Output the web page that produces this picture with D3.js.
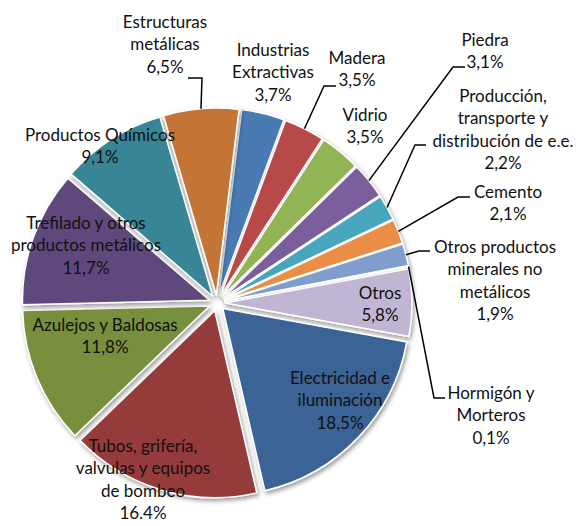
<!DOCTYPE html>
<html>
<head>
<meta charset="utf-8">
<script src="https://cdn.jsdelivr.net/npm/d3@7"></script>
<style>
  body { margin: 0; background: #fff; }
  svg text { font-family: Lato, "Open Sans", sans-serif; font-size: 17px; fill: #111; }
</style>
</head>
<body>
<div id="container"></div>
<script>
/* DATA */
const categories = [
  "Industrias Extractivas", "Madera", "Vidrio", "Piedra",
  "Producción, transporte y distribución de e.e.", "Cemento",
  "Otros productos minerales no metálicos", "Hormigón y Morteros", "Otros",
  "Electricidad e iluminación", "Tubos, grifería, valvulas y equipos de bombeo",
  "Azulejos y Baldosas", "Trefilado y otros productos metálicos",
  "Productos Químicos", "Estructuras metálicas"
];
const values = [3.7, 3.5, 3.5, 3.1, 2.2, 2.1, 1.9, 0.1, 5.8, 18.5, 16.4, 11.8, 11.7, 9.1, 6.5];
const pctLabels = ["3,7%", "3,5%", "3,5%", "3,1%", "2,2%", "2,1%", "1,9%", "0,1%", "5,8%", "18,5%", "16.4%", "11,8%", "11,7%", "9,1%", "6,5%"];
// label text broken in lines as in the original
const labelLines = [
  ["Industrias", "Extractivas"], ["Madera"], ["Vidrio"], ["Piedra"],
  ["Producción,", "transporte y", "distribución de e.e."], ["Cemento"],
  ["Otros productos", "minerales no", "metálicos"], ["Hormigón y", "Morteros"], ["Otros"],
  ["Electricidad e", "iluminación"], ["Tubos, grifería,", "valvulas y equipos", "de bombeo"],
  ["Azulejos y Baldosas"], ["Trefilado y otros", "productos metálicos"],
  ["Productos Químicos"], ["Estructuras", "metálicas"]
];
const colors = [
  "#4a7ab4", "#b84a48", "#93b455", "#7a5e9c", "#46a5be", "#eb8e44",
  "#7f9ecb", "#d9e4c0", "#c0b5d2", "#3a6396", "#963b3a", "#788f3e",
  "#5f4a7b", "#398596", "#c47535"
];

/* LAYOUT */
const width = 576, height = 526;
const cx = 217, cy = 303, radius = 187, explode = 8;
const rot = 7 * Math.PI / 180;
const lineH = 22.5;

// label anchor (centre x, centre y of first line) and leader elbow (null = no leader)
const labelPos = [
  { x: 273, y: 50 }, { x: 357, y: 58, lead: [[336, 86], [324, 86]] },
  { x: 365, y: 115 }, { x: 485, y: 40, lead: [[465, 67], [453, 67]] },
  { x: 503, y: 96, lead: [[426, 145], [415, 145]] },
  { x: 508, y: 192, lead: [[470, 197], [458, 197]] },
  { x: 495, y: 247, lead: [[430, 251], [419, 251]] },
  { x: 491, y: 393, lead: [[445, 398], [434, 398]] },
  { x: 380, y: 293 }, { x: 340, y: 378 }, { x: 143, y: 446 },
  { x: 105, y: 325 }, { x: 86, y: 223 }, { x: 100, y: 135 },
  { x: 165, y: 22, lead: [[188, 78], [202, 78]] }
];

const data = categories.map((c, i) => ({ cat: c, value: values[i], i }));

const svg = d3.select("#container")
  .append("svg")
  .attr("width", width)
  .attr("height", height);

const defs = svg.append("defs");
const shadow = defs.append("filter")
  .attr("id", "shadow")
  .attr("x", "-20%").attr("y", "-20%")
  .attr("width", "140%").attr("height", "140%");
shadow.append("feDropShadow")
  .attr("dx", 1.5).attr("dy", 2.5)
  .attr("stdDeviation", 2)
  .attr("flood-color", "#000")
  .attr("flood-opacity", 0.4);

const pie = d3.pie()
  .sort(null)
  .value(d => d.value)
  .startAngle(rot)
  .endAngle(rot + 2 * Math.PI);

const arcs = pie(data);

const arc = d3.arc().innerRadius(0).outerRadius(radius);

// offset of an exploded slice
function shift(a) {
  const m = (a.startAngle + a.endAngle) / 2;
  return [explode * Math.sin(m), -explode * Math.cos(m)];
}

const g = svg.append("g")
  .attr("transform", `translate(${cx}, ${cy})`);

g.selectAll(".slice")
  .data(arcs)
  .join("path")
  .attr("class", "slice")
  .attr("transform", d => `translate(${shift(d)})`)
  .attr("d", arc)
  .attr("fill", d => colors[d.data.i])
  .attr("stroke", "#fff")
  .attr("stroke-width", 1.5)
  .attr("stroke-linejoin", "round")
  .attr("filter", "url(#shadow)");

// LEADER LINES
arcs.forEach(a => {
  const p = labelPos[a.data.i];
  if (!p.lead) return;
  const m = (a.startAngle + a.endAngle) / 2;
  const s = shift(a);
  const end = [cx + radius * Math.sin(m) + s[0], cy - radius * Math.cos(m) + s[1]];
  svg.append("path")
    .attr("d", d3.line()([...p.lead, end]))
    .attr("fill", "none")
    .attr("stroke", "#000")
    .attr("stroke-width", 1.5);
});

// LABELS
arcs.forEach(a => {
  const i = a.data.i;
  const p = labelPos[i];
  const lines = [...labelLines[i], pctLabels[i]];
  const t = svg.append("text")
    .attr("text-anchor", "middle");
  lines.forEach((l, k) => {
    t.append("tspan")
      .attr("x", p.x)
      .attr("y", p.y + k * lineH)
      .attr("dy", "0.35em")
      .text(l);
  });
});
</script>
</body>
</html>
